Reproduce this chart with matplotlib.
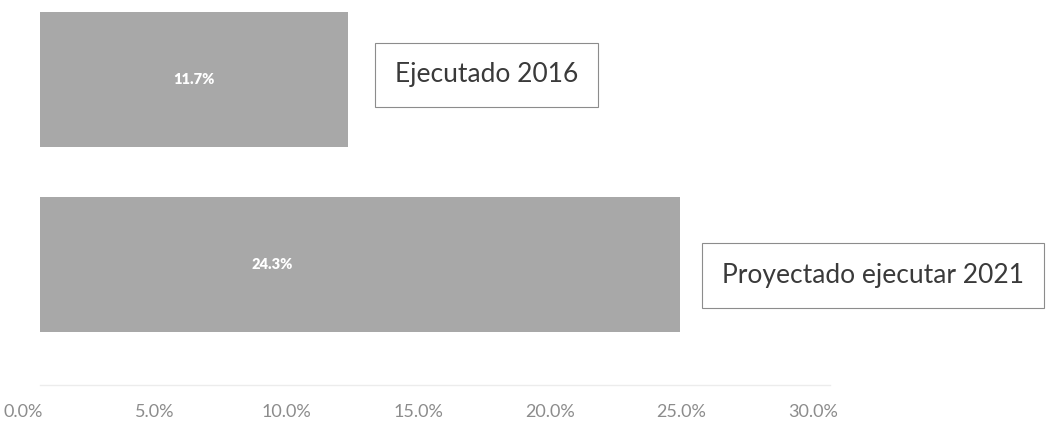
import numpy as np
import matplotlib.pyplot as plt
import matplotlib.transforms as mtransforms
from matplotlib.ticker import PercentFormatter

plt.rcParams['font.family'] = ['Lato', 'DejaVu Sans']

# Data
categories = ['Ejecutado 2016', 'Proyectado ejecutar 2021']
values = [11.7, 24.3]
ticks = [0, 5, 10, 15, 20, 25, 30]

# Style
bar_color = '#a8a8a8'
box_color = '#8c8c8c'
text_color = '#3a3a3a'
tick_color = '#8c8c8c'
label_x = [5.85, 8.8]          # where the value labels sit on the bars
callout_dx = [1.78, 1.6]       # gap from bar end to callout text
callout_dy = [0.027, -0.057]


def main():
    fig = plt.figure(figsize=(10.61, 4.28), dpi=100)
    ax = fig.add_axes((40/1061, 1-385/428, 790/1061, 385/428))

    ypos = [1, 0]
    ax.barh(ypos, values, height=0.73, color=bar_color, edgecolor='none')
    for y, v, lx in zip(ypos, values, label_x):
        ax.text(lx, y, f'{v:.1f}%', color='white', fontsize=10.5,
                fontweight='heavy', ha='center', va='center')

    # category callouts to the right of each bar
    for y, v, name, dx, dy in zip(ypos, values, categories, callout_dx, callout_dy):
        ax.text(v + dx, y + dy, name, color=text_color, fontsize=19,
                ha='left', va='center', clip_on=False,
                bbox=dict(boxstyle='square,pad=0.75', fc='white',
                          ec=box_color, lw=0.8))

    ax.set_xlim(0, 30)
    ax.set_ylim(-0.649, 1.432)
    ax.set_xticks(ticks)
    ax.xaxis.set_major_formatter(PercentFormatter(decimals=1))
    ax.tick_params(axis='x', length=0, labelsize=13, labelcolor=tick_color, pad=14)
    ax.set_yticks([])
    for s in ['top', 'right', 'left']:
        ax.spines[s].set_visible(False)
    ax.spines['bottom'].set_color('#ececec')
    ax.spines['bottom'].set_linewidth(1.0)

    # the scanned labels sit a little left of their ticks
    shift = mtransforms.ScaledTranslation(-17/100, 0, fig.dpi_scale_trans)
    for lab in ax.get_xticklabels():
        lab.set_transform(lab.get_transform() + shift)

    fig.savefig('out.png', dpi=100)


if __name__ == '__main__':
    main()
